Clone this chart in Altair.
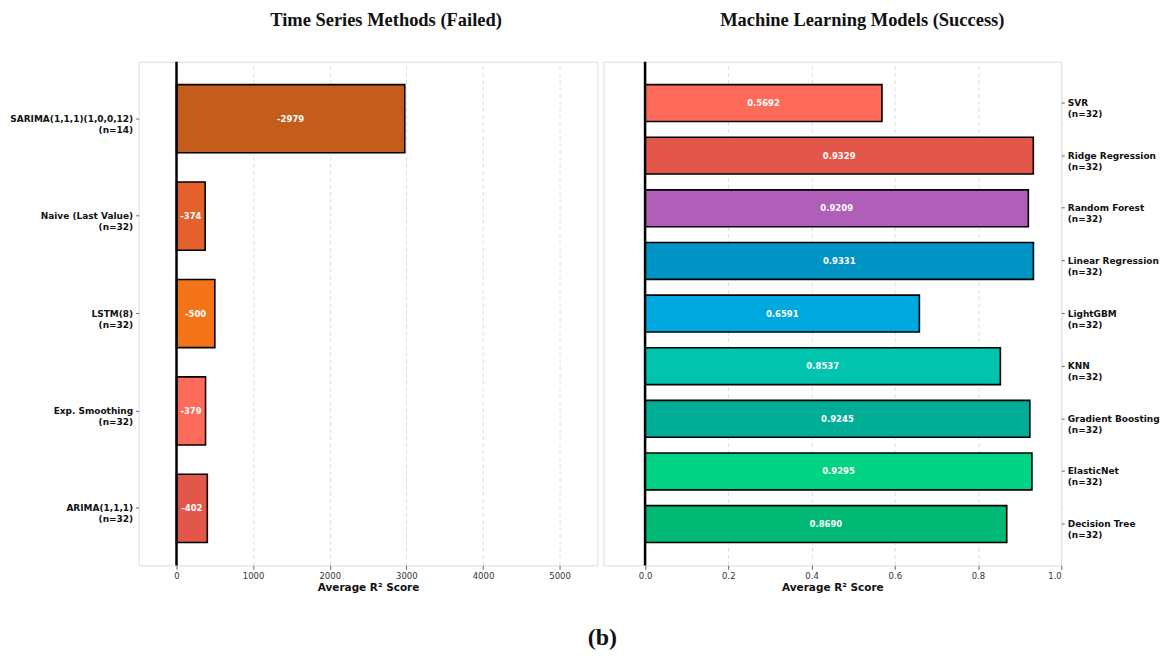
import altair as alt
import pandas as pd

# ---- data ----
ts_methods = ["SARIMA(1,1,1)(1,0,0,12)", "Naive (Last Value)", "LSTM(8)", "Exp. Smoothing", "ARIMA(1,1,1)"]
ts_n = [14, 32, 32, 32, 32]
ts_r2 = [-2979, -374, -500, -379, -402]
ts_colors = ["#C45C1C", "#E4602D", "#F47218", "#FF6B5B", "#E3574A"]

ml_models = ["SVR", "Ridge Regression", "Random Forest", "Linear Regression", "LightGBM",
             "KNN", "Gradient Boosting", "ElasticNet", "Decision Tree"]
ml_n = [32, 32, 32, 32, 32, 32, 32, 32, 32]
ml_r2 = [0.5692, 0.9329, 0.9209, 0.9331, 0.6591, 0.8537, 0.9245, 0.9295, 0.8690]
ml_colors = ["#FF6B5B", "#E3574A", "#AF5FB8", "#0093C5", "#00A8E0",
             "#00C4AE", "#00AE97", "#00D383", "#00B974"]

ts_ticks = [0, 1000, 2000, 3000, 4000, 5000]
ml_ticks = [0.0, 0.2, 0.4, 0.6, 0.8, 1.0]

ts_df = pd.DataFrame({
    "method": ts_methods,
    "label": [f"{m}|(n={n})" for m, n in zip(ts_methods, ts_n)],
    "r2": ts_r2,
})
ts_df["len"] = ts_df["r2"].abs()
ts_df["mid"] = ts_df["len"] / 2
ts_df["zero"] = 0
ts_df["txt"] = ts_df["r2"].map(lambda v: f"{v:d}")

ml_df = pd.DataFrame({
    "method": ml_models,
    "label": [f"{m}|(n={n})" for m, n in zip(ml_models, ml_n)],
    "r2": ml_r2,
})
ml_df["len"] = ml_df["r2"]
ml_df["mid"] = ml_df["len"] / 2
ml_df["zero"] = 0
ml_df["txt"] = ml_df["r2"].map(lambda v: f"{v:.4f}")

W1, W2, H = 460, 459, 505
SANS = "DejaVu Sans"
SERIF = "Liberation Serif"


def panel(df, order, colors, domain, ticks, fmt, pad_outer, y_orient, width, title, title_dx):
    sort_list = list(df["label"])
    yscale = alt.Scale(paddingInner=0.3, paddingOuter=pad_outer)
    yaxis = alt.Axis(
        orient=y_orient, title=None, labelExpr="split(datum.label, '|')",
        labelFont=SANS, labelFontWeight="bold", labelFontSize=9, labelColor="#111",
        labelLineHeight=11, domain=False, tickSize=3, tickColor="#666", labelPadding=3,
        grid=False,
    )
    xscale = alt.Scale(domain=domain, nice=False, zero=False)
    xaxis = alt.Axis(
        values=ticks, format=fmt, title="Average R\u00b2 Score",
        titleFont=SANS, titleFontWeight="bold", titleFontSize=10.5, titleColor="#111",
        labelFont=SANS, labelFontSize=8.5, labelColor="#333", domain=False,
        tickSize=4, tickColor="#666", grid=True, gridColor="#dddddd", gridDash=[4, 3],
        gridWidth=1, titlePadding=3,
    )
    base = alt.Chart(df)
    bars = base.mark_bar(stroke="black", strokeWidth=1.6).encode(
        y=alt.Y("label:N", sort=sort_list, scale=yscale, axis=yaxis),
        x=alt.X("zero:Q", scale=xscale, axis=xaxis),
        x2="len:Q",
        color=alt.Color("method:N", scale=alt.Scale(domain=order, range=colors), legend=None),
    )
    text = base.mark_text(color="white", fontWeight="bold", fontSize=8.5, font=SANS).encode(
        y=alt.Y("label:N", sort=sort_list),
        x=alt.X("mid:Q", scale=xscale),
        text="txt:N",
    )
    rule = alt.Chart(pd.DataFrame({"v": [0]})).mark_rule(color="black", strokeWidth=2.5).encode(
        x=alt.X("v:Q", scale=xscale)
    )
    return alt.layer(bars, rule, text).properties(
        width=width, height=H,
        title=alt.Title(title, font=SERIF, fontSize=18.5, fontWeight="bold", color="#111",
                        anchor="middle", offset=31, dx=title_dx),
    )


left = panel(ts_df, ts_methods, ts_colors, [-494, 5494], ts_ticks, "d", 0.235, "left", W1,
             "Time Series Methods (Failed)", 18)
right = panel(ml_df, ml_models, ml_colors, [-0.1, 1.0], ml_ticks, ".1f", 0.435, "right", W2,
              "Machine Learning Models (Success)", 30)

chart = alt.hconcat(left, right, spacing=4).resolve_scale(
    y="independent", x="independent", color="independent"
).properties(
    title=alt.Title("(b)", orient="bottom", font=SERIF, fontSize=24, fontWeight="bold",
                    color="#111", anchor="middle", offset=32, dx=18),
    padding={"left": 1, "right": 0, "top": 1, "bottom": 0},
).configure_view(stroke="#888", strokeWidth=1.5).configure(background="white")

chart.save("out.html", embed_options={"renderer": "svg", "actions": False})
